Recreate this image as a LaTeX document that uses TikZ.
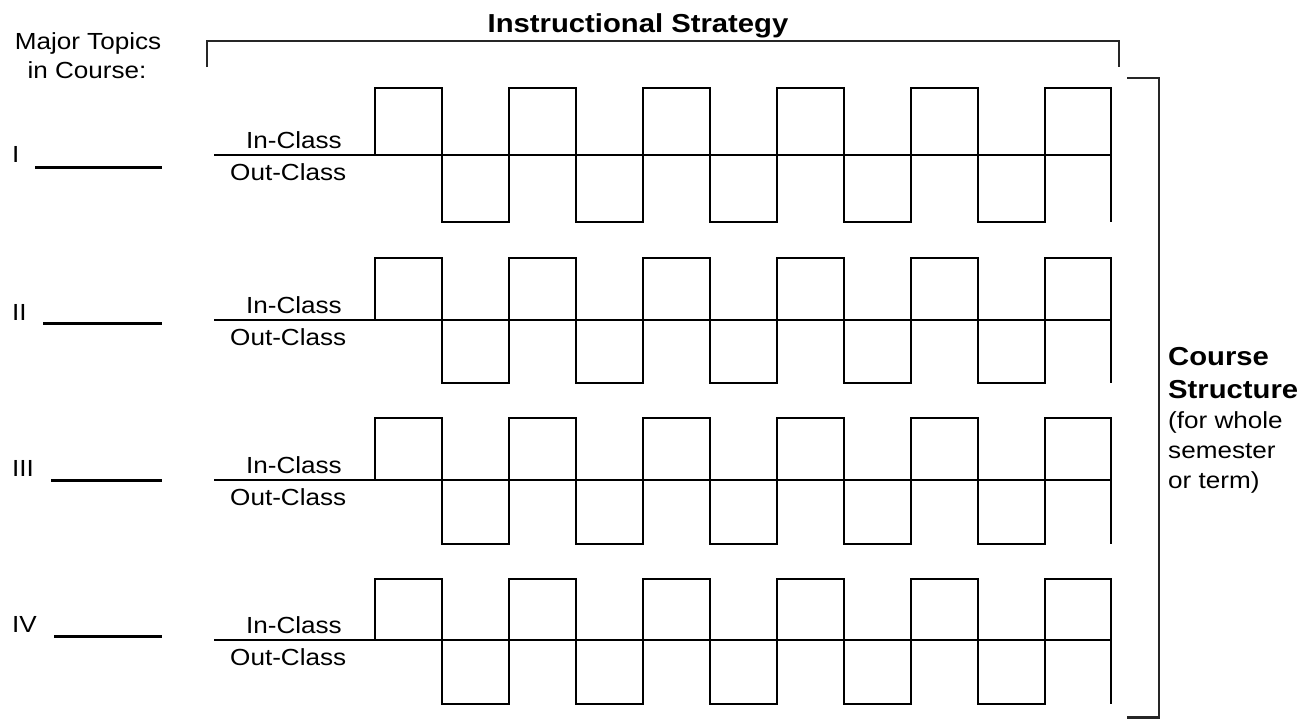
\documentclass[tikz,border=0pt]{standalone}
\usepackage{fontspec}
\setmainfont{Liberation Sans}
\usepackage{graphicx}
\newcommand{\wx}[1]{\scalebox{1.12}[1]{#1}}
\newcommand{\wb}[1]{\scalebox{1.125}[1]{#1}}
\begin{document}
\begin{tikzpicture}[x=1pt,y=-1pt,
  txt/.style={inner sep=0pt, font=\fontsize{23.3}{27}\selectfont},
  btxt/.style={inner sep=0pt, font=\fontsize{26}{30}\selectfont\bfseries},
  wave/.style={line width=2.8pt, line join=miter},
  uline/.style={line width=3pt},
  brk/.style={line width=2.2pt, black!85, line join=miter}]
\useasboundingbox (0,0) rectangle (1312,718);

% header texts
\node[txt, anchor=base] (maj1) at (88,49) {\wx{Major Topics}};
\node[txt, anchor=base] (maj2) at (87,78) {\wx{in Course:}};
\node[btxt, anchor=base] (title) at (638,32) {\wb{Instructional Strategy}};

% top bracket
\draw[brk] (207,67) -- (207,41) -- (1119,41) -- (1119,67);

% right bracket
\draw[brk] (1127,78) -- (1159,78) -- (1159,717.5) -- (1127,717.5);

% right texts
\node[btxt, anchor=base west] (cs1) at (1168,365) {\wb{Course}};
\node[btxt, anchor=base west] (cs2) at (1168,398) {\wb{Structure}};
\node[txt, anchor=base west] (cs3) at (1168,428) {\wx{(for whole}};
\node[txt, anchor=base west] (cs4) at (1168,458) {\wx{semester}};
\node[txt, anchor=base west] (cs5) at (1168,488) {\wx{or term)}};

% rows
\foreach \r/\rn/\b/\t/\d/\nb/\ul/\ux in {
  1/I/155/88/222/162/167/35,
  2/II/320/258/383/320/323/43,
  3/III/480/418/544/476/480/51,
  4/IV/640/579/704/632/636/54} {
  \node[txt, anchor=base west] (num\r) at (12,\nb) {\wx{\rn}};
  \draw[uline] (\ux,\ul) -- (162,\ul);
  \node[txt, anchor=base east] (in\r) at (342,\b-6.5) {\wx{In-Class}};
  \node[txt, anchor=base west] (out\r) at (230,\b+25) {\wx{Out-Class}};
  \draw[wave] (214,\b) -- (1111,\b);
  \foreach \k in {0,...,4} {
    \draw[wave] ({375+134*\k},\b) -- ({375+134*\k},\t) -- ({442+134*\k},\t)
      -- ({442+134*\k},\d) -- ({509+134*\k},\d) -- ({509+134*\k},\b);
  }
  \draw[wave] (1045,\b) -- (1045,\t) -- (1111,\t) -- (1111,\d);
}
\end{tikzpicture}
\end{document}
